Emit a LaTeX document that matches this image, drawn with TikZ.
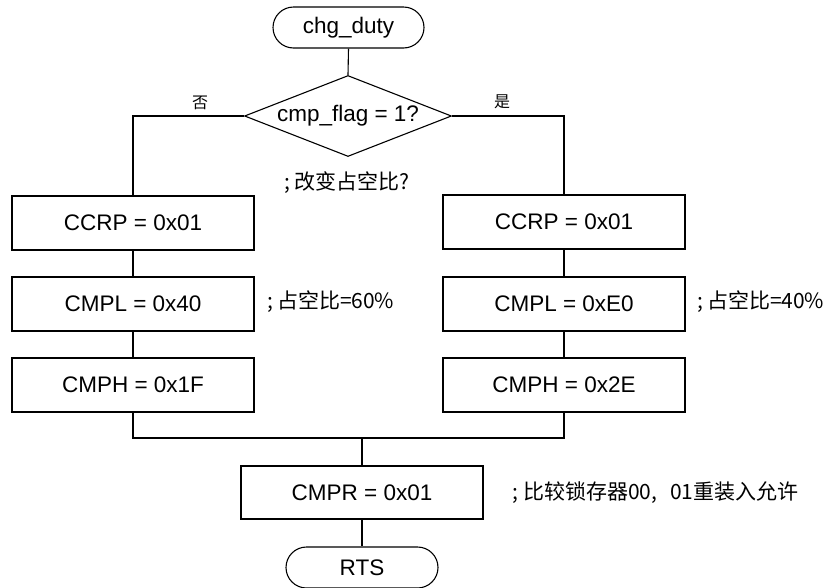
\documentclass[tikz,border=0pt]{standalone}
\usepackage{fontspec}
\setmainfont{Liberation Sans}
\newfontfamily\cjk{Noto Sans CJK SC}
\usetikzlibrary{shapes.geometric}
\begin{document}
\begin{tikzpicture}[x=1pt,y=-1pt,
  every node/.style={font=\fontsize{22.5}{24}\selectfont},
  line/.style={draw=black,line width=1.1pt},
  terminal/.style={line,rectangle,rounded corners=20.5pt,minimum width=151pt,minimum height=41pt,inner sep=0pt},
  procbox/.style={line,rectangle,minimum width=242pt,minimum height=54pt,inner sep=0pt},
  decision/.style={line,diamond,minimum width=207pt,minimum height=81pt,inner sep=0pt},
  branchlabel/.style={font=\cjk\fontsize{16}{18}\selectfont},
  remark/.style={font=\cjk\fontsize{21}{23}\selectfont,inner sep=0pt}]
\useasboundingbox (0,0) rectangle (825,587);

% start and decision
\node[terminal] (start) at (348.5,27.5) {chg\_duty};
\node[decision] (dia) at (348,116) {\makebox[0pt]{cmp\_flag = 1?}};
\node[remark] (cmtdia) at (347,183) {;\hspace{4pt}改变占空比?};

% left branch (flag = 0)
\node[procbox] (l1) at (133,223) {CCRP = 0x01};
\node[procbox] (l2) at (133,304) {CMPL = 0x40};
\node[procbox] (l3) at (133,385) {CMPH = 0x1F};
\node[remark,anchor=west] (cmtl) at (267,302) {;\hspace{4pt}占空比=60\%};

% right branch (flag = 1)
\node[procbox] (r1) at (564,222) {CCRP = 0x01};
\node[procbox] (r2) at (564,304) {CMPL = 0xE0};
\node[procbox] (r3) at (564,385) {CMPH = 0x2E};
\node[remark,anchor=west] (cmtr) at (697,302) {;\hspace{4pt}占空比=40\%};

% common tail
\coordinate (merge) at (362,438);
\node[procbox,minimum height=53pt] (cmpr) at (362,492.5) {CMPR = 0x01};
\node[remark,anchor=west] (cmtc) at (512,493) {;\hspace{5pt}比较锁存器00,\hspace{13pt}01重装入允许};
\node[terminal,minimum width=152pt] (rts) at (362,567.5) {RTS};

% connectors
\draw[line] (start.south) -- (dia.north);
\draw[line] (dia.west) -| (l1.north);
\draw[line] (dia.east) -| (r1.north);
\node[branchlabel] (no) at (200,103) {否};
\node[branchlabel] (yes) at (502,102) {是};
\draw[line] (l1) -- (l2);
\draw[line] (l2) -- (l3);
\draw[line] (r1) -- (r2);
\draw[line] (r2) -- (r3);
\draw[line] (l3.south) |- (merge) -| (r3.south);
\draw[line] (merge) -- (cmpr.north);
\draw[line] (cmpr) -- (rts);
\end{tikzpicture}
\end{document}
